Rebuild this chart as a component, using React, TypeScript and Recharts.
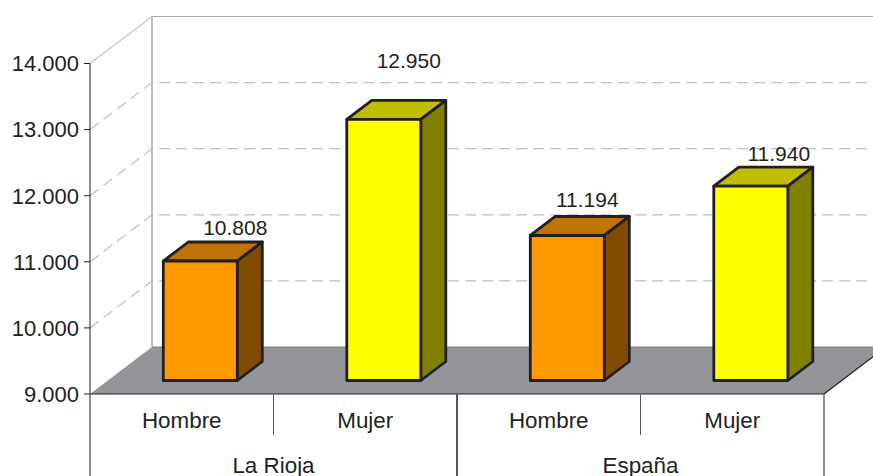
import { BarChart, Bar, XAxis, YAxis, ReferenceLine, LabelList } from "recharts";

const categories = ["Hombre", "Mujer", "Hombre", "Mujer"];
const groups = ["La Rioja", "La Rioja", "España", "España"];
const values = [10808, 12950, 11194, 11940];
const yTicks = [9000, 10000, 11000, 12000, 13000, 14000];
const gridValues = [10000, 11000, 12000, 13000];

// hand-placed data labels in the original, relative to the bar top centre
const labelShiftX = [35, 25, 20, 28];
const labelShiftY = [-26, -51, -28, -25];

const WIDTH = 873;
const HEIGHT = 476;
const TEXT = "#231f20";
const FONT = "'Liberation Sans', Arial, sans-serif";
const FONT_SIZE = 22.4;
const TICK_FONT_SIZE = 22;
const LABEL_FONT_SIZE = 21;

// wall / floor depth of the 3D box
const DEPTH_X = 62;
const DEPTH_Y = -47;
// bars stand in the middle of the floor
const BAR_DX = 18.3;
const BAR_DY = -13.5;
const BAR_DEPTH_X = 25;
const BAR_DEPTH_Y = -19;
const PLOT_H = 330.5;
const BAND = 183.5;

const palette: Record<string, string[]> = {
  Hombre: ["#ff9900", "#bf7300", "#804d00"],
  Mujer: ["#ffff00", "#bfbf00", "#808000"],
};

const data = categories.map((c, i) => ({ category: c, group: groups[i], value: values[i] }));

function fmt(v: number) {
  return String(v).replace(/\B(?=(\d{3})+$)/g, ".");
}

function Bar3D(props: any) {
  const { x, y, width, height, payload } = props;
  const [front, top, side] = palette[payload.category];
  const l = x + BAR_DX;
  const r = l + width;
  const t = y + BAR_DY;
  const b = t + height;
  const dx = BAR_DEPTH_X;
  const dy = BAR_DEPTH_Y;
  const line = { stroke: "#231f20", strokeWidth: 2.8, strokeLinejoin: "round" as const };
  return (
    <g>
      <polygon points={`${l},${t} ${l + dx},${t + dy} ${r + dx},${t + dy} ${r},${t}`} fill={top} {...line} />
      <polygon points={`${r},${t} ${r + dx},${t + dy} ${r + dx},${b + dy} ${r},${b}`} fill={side} {...line} />
      <rect x={l} y={t} width={width} height={height} fill={front} {...line} />
    </g>
  );
}

function FloorLine(props: any) {
  const { x1, x2, y1 } = props;
  return (
    <g>
      <polygon
        points={`${x1},${y1} ${x1 + DEPTH_X},${y1 + DEPTH_Y} ${x2 + DEPTH_X},${y1 + DEPTH_Y} ${x2},${y1}`}
        fill="#939598"
      />
      <line x1={x1 + DEPTH_X} y1={y1 + DEPTH_Y} x2={x2 + DEPTH_X} y2={y1 + DEPTH_Y} stroke="#808285" strokeWidth={1} />
      <line x1={x2} y1={y1} x2={x2 + DEPTH_X} y2={y1 + DEPTH_Y} stroke={TEXT} strokeWidth={1.2} />
      <line x1={x1 + DEPTH_X} y1={y1 + DEPTH_Y} x2={x1 + DEPTH_X} y2={y1 + DEPTH_Y - PLOT_H} stroke="#a7a9ac" strokeWidth={1.5} />
    </g>
  );
}

function GridLine(props: any) {
  const { x1, x2, y1 } = props;
  return (
    <path
      d={`M${x1},${y1} L${x1 + DEPTH_X},${y1 + DEPTH_Y} L${x2 + DEPTH_X},${y1 + DEPTH_Y}`}
      fill="none"
      stroke="#bcbec0"
      strokeWidth={1.2}
      strokeDasharray="11 6"
    />
  );
}

function TopLine(props: any) {
  const { x1, x2, y1 } = props;
  return (
    <path
      d={`M${x1},${y1} L${x1 + DEPTH_X},${y1 + DEPTH_Y} L${x2 + DEPTH_X},${y1 + DEPTH_Y}`}
      fill="none"
      stroke="#a7a9ac"
      strokeWidth={1}
    />
  );
}

function CategoryTick(props: any) {
  const { x, y, payload, index } = props;
  return (
    <g>
      <text x={x} y={y + 25.5} textAnchor="middle" fontSize={FONT_SIZE} fontFamily={FONT} fill={TEXT}>
        {payload.value}
      </text>
      {index % 2 === 0 && (
        <line x1={x + BAND / 2} y1={394.5} x2={x + BAND / 2} y2={435} stroke="#58595b" strokeWidth={1} />
      )}
    </g>
  );
}

function GroupTick(props: any) {
  const { x, payload } = props;
  const half = BAND;
  return (
    <g>
      <text x={x} y={473} textAnchor="middle" fontSize={FONT_SIZE} fontFamily={FONT} fill={TEXT}>
        {payload.value}
      </text>
      <line x1={x - half} y1={394.5} x2={x - half} y2={HEIGHT} stroke={TEXT} strokeWidth={1} />
      <line x1={x + half} y1={394.5} x2={x + half} y2={HEIGHT} stroke={TEXT} strokeWidth={1} />
    </g>
  );
}

function ValueLabel(props: any) {
  const { x, y, width, value, index } = props;
  return (
    <text
      x={x + width / 2 + BAR_DX + labelShiftX[index]}
      y={y + BAR_DY + labelShiftY[index]}
      textAnchor="middle"
      fontSize={LABEL_FONT_SIZE}
      fontFamily={FONT}
      fill={TEXT}
    >
      {fmt(value)}
    </text>
  );
}

export default function App() {
  return (
    <div style={{ position: "absolute", left: 0, top: 0, width: WIDTH, height: HEIGHT, background: "#fff" }}>
      <BarChart
        width={WIDTH}
        height={HEIGHT}
        data={data}
        margin={{ top: 63.5, right: 49, bottom: 0, left: 0 }}
        barSize={74}
      >
        <ReferenceLine y={9000} xAxisId="cat" shape={<FloorLine />} zIndex={-1} />
        {gridValues.map((v) => (
          <ReferenceLine key={v} y={v} xAxisId="cat" shape={<GridLine />} zIndex={-1} />
        ))}
        <ReferenceLine y={14000} xAxisId="cat" shape={<TopLine />} zIndex={-1} />
        <YAxis
          domain={[9000, 14000]}
          ticks={yTicks}
          width={90}
          tickSize={6}
          tickMargin={5}
          tickFormatter={fmt}
          tick={{ fontSize: TICK_FONT_SIZE, fontFamily: FONT, fill: TEXT }}
          stroke={TEXT}
          interval={0}
        />
        <XAxis
          xAxisId="cat"
          dataKey="category"
          height={41}
          tickLine={false}
          interval={0}
          stroke={TEXT}
          tick={<CategoryTick />}
        />
        <XAxis
          xAxisId="group"
          dataKey="group"
          allowDuplicatedCategory={false}
          height={41}
          axisLine={false}
          tickLine={false}
          interval={0}
          tick={<GroupTick />}
        />
        <Bar dataKey="value" xAxisId="cat" isAnimationActive={false} shape={<Bar3D />}>
          <LabelList dataKey="value" content={<ValueLabel />} />
        </Bar>
      </BarChart>
    </div>
  );
}
